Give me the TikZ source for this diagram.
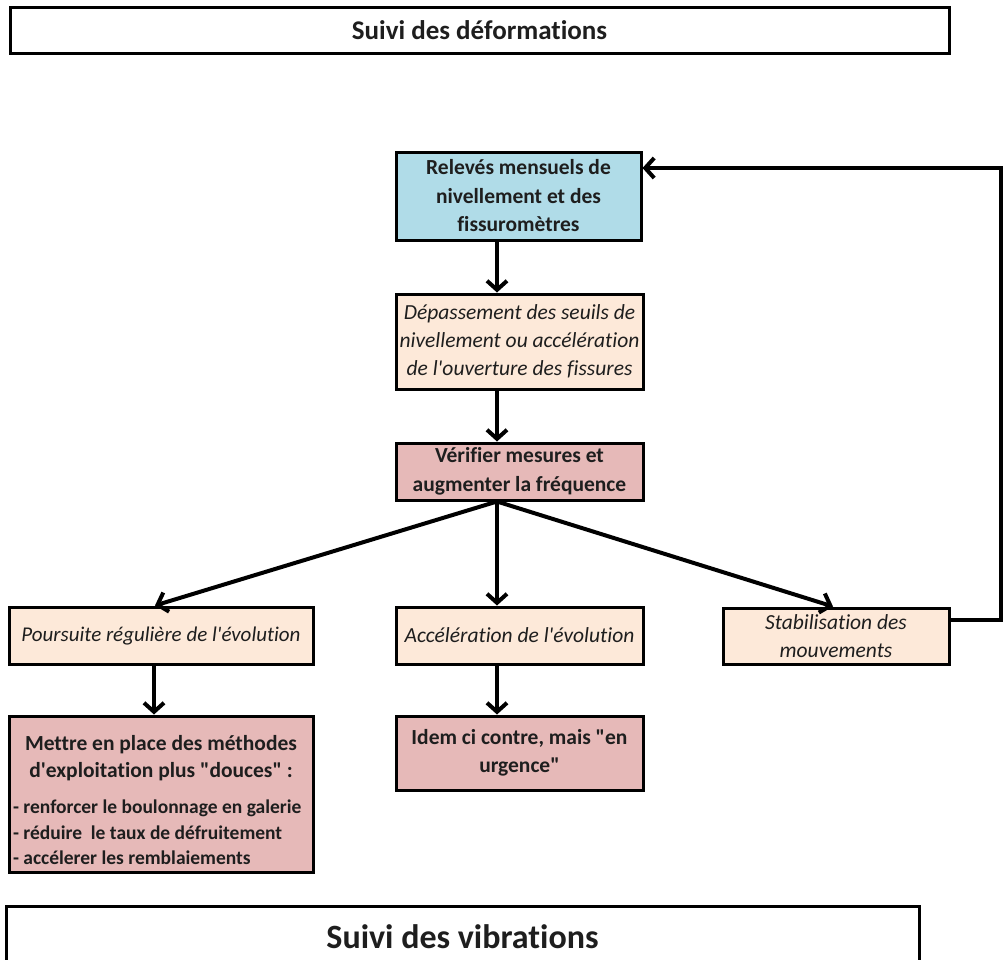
\documentclass[tikz,border=0pt]{standalone}
\usepackage{fontspec}
\setmainfont{Carlito}[Ligatures={TeXOff,NoCommon}]
\usetikzlibrary{arrows.meta}
\definecolor{boxblue}{RGB}{176,220,232}
\definecolor{boxbeige}{RGB}{253,233,217}
\definecolor{boxpink}{RGB}{230,185,184}
\definecolor{txt}{RGB}{30,30,30}
\tikzset{
  box/.style={draw=black, line width=3pt, rectangle, inner sep=0pt, align=flush center,
              text=txt, font=\fontsize{21.5}{28.5}\selectfont},
  bbold/.style={box, font=\fontsize{21.5}{28.5}\selectfont\bfseries},
  bital/.style={box, font=\fontsize{21.5}{28}\selectfont\itshape},
  titlebox/.style={draw=black, line width=3pt, rectangle, inner sep=0pt, fill=white, text=txt},
  conn/.style={line width=4pt, draw=black, line join=miter},
  arr/.style={conn, -{Straight Barb[length=9pt,width=20pt]}}
}
\begin{document}
\begin{tikzpicture}[x=1pt,y=-1pt]
\useasboundingbox (0,0) rectangle (1004,959);
\clip (0,0) rectangle (1004,959);
\fill[white] (0,0) rectangle (1004,959);

\node[titlebox, minimum width=939pt, minimum height=46pt, font=\fontsize{27}{32}\selectfont\bfseries]
  (title1) at (479.5,30) {Suivi des déformations};

\node[bbold, fill=boxblue, minimum width=245pt, minimum height=88pt]
  (releves) at (518.5,196) {Relevés mensuels de\\nivellement et des\\fissuromètres};

\node[bital, fill=boxbeige, minimum width=247pt, minimum height=95pt]
  (depass) at (519.5,341.5) {Dépassement des seuils de\\nivellement ou accélération\\de l'ouverture des fissures};

\node[bbold, fill=boxpink, minimum width=247pt, minimum height=57pt]
  (verif) at (519.5,471.5) {Vérifier mesures et\\augmenter la fréquence};

\node[bital, fill=boxbeige, minimum width=304pt, minimum height=57pt, font=\fontsize{21}{28}\selectfont\itshape]
  (pours) at (161,635.5) {Poursuite régulière de l'évolution};

\node[bital, fill=boxbeige, minimum width=247pt, minimum height=57pt]
  (accel) at (519.5,635.5) {Accélération de l'évolution};

\node[bital, fill=boxbeige, minimum width=226pt, minimum height=56pt]
  (stab) at (836,636) {Stabilisation des\\mouvements};

\node[box, fill=boxpink, minimum width=304pt, minimum height=156pt]
  (mettre) at (161,794) {\parbox{296pt}{%
  \vspace*{12pt}\bfseries
  {\centering\fontsize{21.5}{27}\selectfont Mettre en place des méthodes\\d'exploitation plus "douces" :\par}%
  \vspace{11pt}%
  {\raggedright\fontsize{19.5}{25.5}\selectfont - renforcer le boulonnage en galerie\\- réduire\ \ le taux de défruitement\\- accélerer les remblaiements\par}}};

\node[bbold, fill=boxpink, minimum width=247pt, minimum height=74pt]
  (idem) at (519.5,753) {Idem ci contre, mais "en\\urgence"};

\node[titlebox, anchor=north, minimum width=913pt, minimum height=60pt, font=\fontsize{34}{38}\selectfont\bfseries]
  (title2) at (462.5,905) {Suivi des vibrations};

\coordinate (spine) at (497,0);
\coordinate (ret) at (1001,0);

\draw[arr] (releves.south -| spine) -- (depass.north -| spine);
\draw[arr] (depass.south -| spine) -- (verif.north -| spine);
\draw[arr] (verif.south -| spine) -- ([xshift=-6pt]pours.north);
\draw[arr] (verif.south -| spine) -- (accel.north -| spine);
\draw[arr] (verif.south -| spine) -- ([xshift=-3pt]stab.north);
\draw[arr] ([xshift=-7pt]pours.south) -- ([xshift=-7pt]mettre.north);
\draw[arr] (accel.south -| spine) -- (idem.north -| spine);
\draw[arr] ([yshift=16pt]stab.east) -- ([yshift=16pt]stab.east -| ret)
  -- ([yshift=28pt]releves.east -| ret) -- ([yshift=28pt]releves.east);
\end{tikzpicture}
\end{document}
